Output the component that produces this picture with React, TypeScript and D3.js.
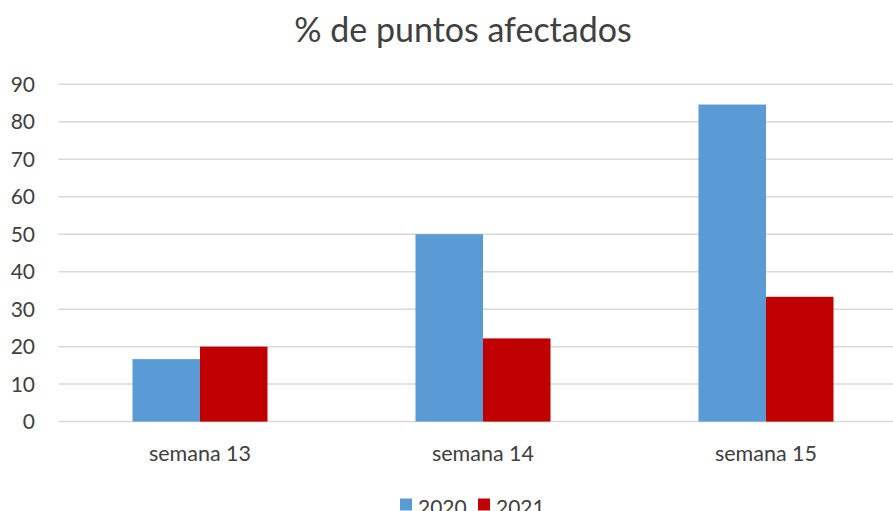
import React from "react";
import * as d3 from "d3";

const categories = ["semana 13", "semana 14", "semana 15"];
const series = ["2020", "2021"];
const values2020 = [16.67, 50, 84.6];
const values2021 = [20, 22.2, 33.3];
const yTicks = [0, 10, 20, 30, 40, 50, 60, 70, 80, 90];
const title = "% de puntos afectados";

const colors = ["#5B9BD5", "#C00000"];
const W = 893;
const H = 511;
const FONT = "Lato, 'Open Sans', sans-serif";

export default function App() {
  const x = d3.scaleBand<string>().domain(categories).range([58.5, 907.5]).paddingInner(0).paddingOuter(0);
  const y = d3.scaleLinear().domain([0, 90]).range([421.6, 84.3]);
  const barW = 67.5;
  const data = [values2020, values2021];
  return (
    <svg width={W} height={H} style={{ position: "absolute", left: 0, top: 0, background: "#fff" }} fontFamily={FONT}>
      <rect x={0} y={0} width={W} height={H} fill="#fff" />
      <text x={463} y={42} textAnchor="middle" fontSize={34} fill="#404040">{title}</text>
      {yTicks.map((t) => (
        <g key={t}>
          <line x1={58.5} x2={W} y1={y(t)} y2={y(t)} stroke="#D9D9D9" strokeWidth={1.5} />
          <text x={35} y={y(t)} dy="0.36em" textAnchor="end" fontSize={21} fill="#404040">{t}</text>
        </g>
      ))}
      {categories.map((c, i) => {
        const cx = (x(c) as number) + x.bandwidth() / 2;
        return (
          <g key={c}>
            {data.map((vals, s) => (
              <rect key={s} x={cx - barW + s * barW} y={y(vals[i])} width={barW} height={y(0) - y(vals[i])} fill={colors[s]} />
            ))}
            <text x={cx} y={461} textAnchor="middle" fontSize={21.5} fill="#404040">{c}</text>
          </g>
        );
      })}
      {series.map((s, i) => (
        <g key={s} transform={`translate(${400 + i * 78},0)`}>
          <rect x={0} y={498.5} width={12} height={12} fill={colors[i]} />
          <text x={18} y={515} fontSize={21} fill="#404040">{s}</text>
        </g>
      ))}
    </svg>
  );
}
